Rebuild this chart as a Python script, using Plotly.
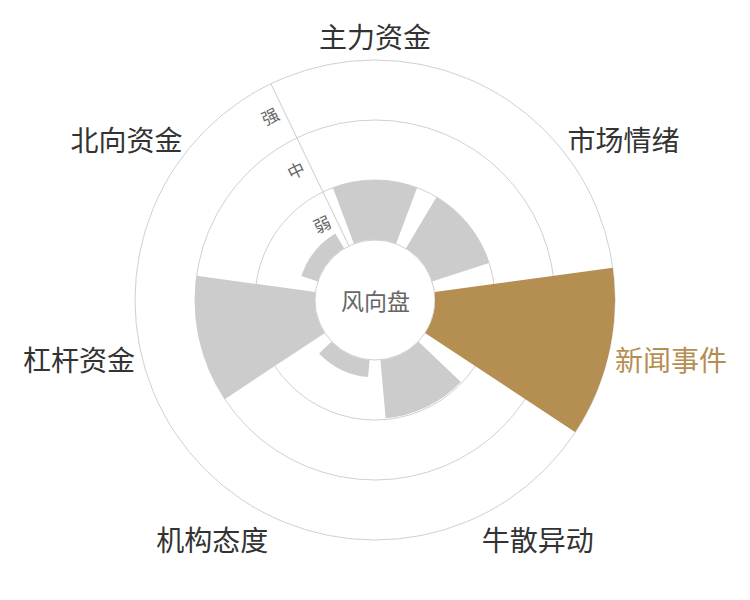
import plotly.graph_objects as go

# categories clockwise from the top
categories = ["主力资金", "市场情绪", "新闻事件", "牛散异动", "机构态度", "杠杆资金", "北向资金"]
strength = [1.0, 1.0, 3.0, 0.98, 0.29, 2.0, 0.29]
highlight = "新闻事件"

level_vals = [0.5, 1.5, 2.5]
level_text = ["弱", "中", "强"]
grid_vals = [0, 1, 2, 3]

gold = '#b58f52'
grey_bar = '#cccccc'
line_col = '#d0d0d0'

step = 360 / len(categories)
theta = [i * step for i in range(len(categories))]
colors = [gold if c == highlight else grey_bar for c in categories]
tick_text = ["<span style='color:%s'>%s</span>" % (gold, c) if c == highlight else c for c in categories]

fig = go.Figure()
fig.add_trace(go.Barpolar(r=strength, theta=theta, width=[step * 0.8] * len(categories),
                          marker=dict(color=colors, line=dict(width=0)),
                          hoverinfo='skip', subplot='polar'))

# invisible trace just so polar2 gets drawn (carries the 弱/中/强 axis)
fig.add_trace(go.Scatterpolar(r=[0], theta=[0], mode='markers', marker=dict(opacity=0),
                              hoverinfo='skip', subplot='polar2', showlegend=False))

# page body has an 8px margin, so shift the plot area up/left by that much
fig.update_layout(
    width=750, height=600,
    paper_bgcolor='white',
    showlegend=False,
    margin=dict(l=127, r=143, t=52, b=68),
    font=dict(family='Noto Sans CJK SC', color='#333333'),
    polar=dict(
        domain=dict(x=[0, 1], y=[0, 1]),
        bgcolor='white',
        hole=0.25,
        radialaxis=dict(range=[0, 3], tickvals=grid_vals, showticklabels=False, ticks='',
                        showline=False, gridcolor=line_col, gridwidth=1, layer='below traces'),
        angularaxis=dict(direction='clockwise', rotation=90, tickvals=theta, ticktext=tick_text,
                         showgrid=False, showline=True, linecolor=line_col, linewidth=1, ticks='',
                         tickfont=dict(size=28, color='#333333'), layer='below traces'),
    ),
    polar2=dict(
        domain=dict(x=[0, 1], y=[0, 1]),
        bgcolor='rgba(0,0,0,0)',
        hole=0.25,
        radialaxis=dict(range=[0, 3], angle=90 + step / 2, tickvals=level_vals, ticktext=level_text,
                        side='counterclockwise', tickangle=90, showgrid=False, showline=True,
                        linecolor=line_col, linewidth=1, ticks='',
                        tickfont=dict(size=17, color='#666666')),
        angularaxis=dict(visible=False, direction='clockwise', rotation=90),
    ),
)

fig.add_annotation(x=0.5, y=0.5, xref='paper', yref='paper', text='风向盘', showarrow=False,
                   font=dict(size=23, color='#666666'))

fig.write_html("out.html")
